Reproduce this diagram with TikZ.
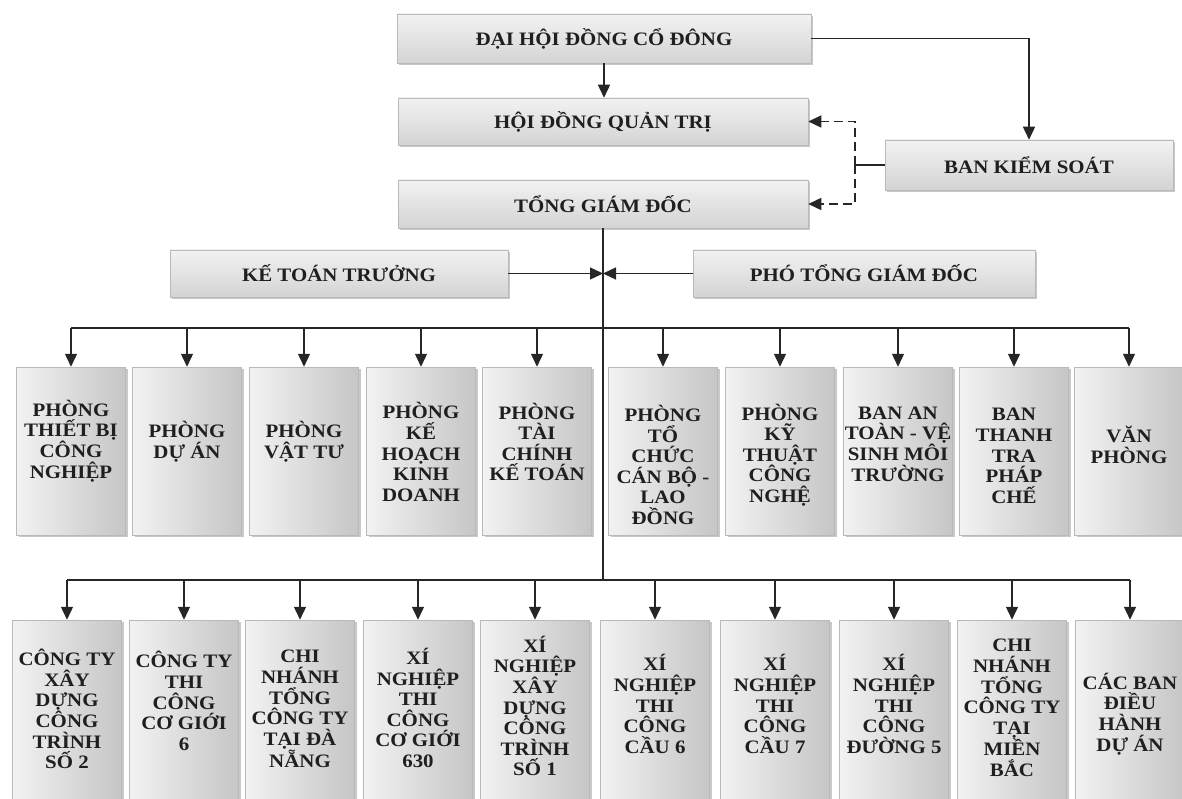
\documentclass[tikz,border=0pt]{standalone}
\usepackage{fontspec}
\setmainfont{Liberation Serif}[FakeStretch=1.1]
\usetikzlibrary{arrows.meta,shadows}
\begin{document}
\begin{tikzpicture}[x=1pt,y=-1pt,
  font=\fontsize{19}{20.6}\selectfont\bfseries,
  conn/.style={draw=black!85, line width=1.4pt},
  arr/.style={conn, -{Triangle[length=13pt,width=12pt]}},
  dsh/.style={dash pattern=on 9pt off 5pt},
  shad/.style={drop shadow={shadow xshift=2pt, shadow yshift=-2pt, fill=gray!60, opacity=.7}},
  wbox/.style={shad, draw=gray!55, line width=0.5pt, top color=gray!10, bottom color=gray!34,
    inner sep=0pt, text=black!88},
  tbox/.style={shad, draw=gray!55, line width=0.5pt, left color=gray!10, right color=gray!45,
    inner sep=0pt, minimum width=109pt},
  rowa/.style={tbox, minimum height=168pt},
  rowb/.style={tbox, minimum height=200pt},
  lbl/.style={align=center, inner sep=0pt, text=black!88}]
\path[use as bounding box] (0,0) rectangle (1182,799);
\clip (0,0) rectangle (1182,799);
\fill[white] (0,0) rectangle (1182,799);

% top boxes
\node[wbox, minimum width=414pt, minimum height=49pt] (dh) at (604,38.5) {ĐẠI HỘI ĐỒNG CỔ ĐÔNG};
\node[wbox, minimum width=410pt, minimum height=47pt] (hd) at (603,121.5) {HỘI ĐỒNG QUẢN TRỊ};
\node[wbox, minimum width=410pt, minimum height=48pt] (tgd) at (603,204) {TỔNG GIÁM ĐỐC};
\node[wbox, minimum width=288pt, minimum height=50pt] (bks) at (1029,165) {BAN KIỂM SOÁT};
\node[wbox, minimum width=338pt, minimum height=47pt] (ktt) at (339,273.5) {KẾ TOÁN TRƯỞNG};
\node[wbox, minimum width=342pt, minimum height=47pt] (ptgd) at (864,273.5) {PHÓ TỔNG GIÁM ĐỐC};

% row 1 boxes
\node[rowa] (a1) at (71,451) {};
\node[rowa] (a2) at (187,451) {};
\node[rowa] (a3) at (304,451) {};
\node[rowa] (a4) at (421,451) {};
\node[rowa] (a5) at (537,451) {};
\node[rowa] (a6) at (663,451) {};
\node[rowa] (a7) at (780,451) {};
\node[rowa] (a8) at (898,451) {};
\node[rowa] (a9) at (1014,451) {};
\node[rowa] (a10) at (1129,451) {};

\node[lbl] (la1) at (71,441) {PHÒNG\\THIẾT BỊ\\CÔNG\\NGHIỆP};
\node[lbl] (la2) at (187,442) {PHÒNG\\DỰ ÁN};
\node[lbl] (la3) at (304,442) {PHÒNG\\VẬT TƯ};
\node[lbl] (la4) at (421,452) {PHÒNG\\KẾ\\HOẠCH\\KINH\\DOANH};
\node[lbl] (la5) at (537,442) {PHÒNG\\TÀI\\CHÍNH\\KẾ TOÁN};
\node[lbl] (la6) at (663,465) {PHÒNG\\TỔ\\CHỨC\\CÁN BỘ -\\LAO\\ĐỒNG};
\node[lbl] (la7) at (780,455) {PHÒNG\\KỸ\\THUẬT\\CÔNG\\NGHỆ};
\node[lbl] (la8) at (898,444) {BAN AN\\TOÀN - VỆ\\SINH MÔI\\TRƯỜNG};
\node[lbl] (la9) at (1014,456) {BAN\\THANH\\TRA\\PHÁP\\CHẾ};
\node[lbl] (la10) at (1129,445) {VĂN\\PHÒNG};

% row 2 boxes
\node[rowb] (b1) at (67,720) {};
\node[rowb] (b2) at (184,720) {};
\node[rowb] (b3) at (300,720) {};
\node[rowb] (b4) at (418,720) {};
\node[rowb] (b5) at (535,720) {};
\node[rowb] (b6) at (655,720) {};
\node[rowb] (b7) at (775,720) {};
\node[rowb] (b8) at (894,720) {};
\node[rowb] (b9) at (1012,720) {};
\node[rowb] (b10) at (1130,720) {};

\node[lbl] (lb1) at (67,709) {CÔNG TY\\XÂY\\DỰNG\\CÔNG\\TRÌNH\\SỐ 2};
\node[lbl] (lb2) at (184,701) {CÔNG TY\\THI\\CÔNG\\CƠ GIỚI\\6};
\node[lbl] (lb3) at (300,709) {CHI\\NHÁNH\\TỔNG\\CÔNG TY\\TẠI ĐÀ\\NẴNG};
\node[lbl] (lb4) at (418,708) {XÍ\\NGHIỆP\\THI\\CÔNG\\CƠ GIỚI\\630};
\node[lbl] (lb5) at (535,706) {XÍ\\NGHIỆP\\XÂY\\DỰNG\\CÔNG\\TRÌNH\\SỐ 1};
\node[lbl] (lb6) at (655,704) {XÍ\\NGHIỆP\\THI\\CÔNG\\CẦU 6};
\node[lbl] (lb7) at (775,704) {XÍ\\NGHIỆP\\THI\\CÔNG\\CẦU 7};
\node[lbl] (lb8) at (894,704) {XÍ\\NGHIỆP\\THI\\CÔNG\\ĐƯỜNG 5};
\node[lbl] (lb9) at (1012,708) {CHI\\NHÁNH\\TỔNG\\CÔNG TY\\TẠI\\MIỀN\\BẮC};
\node[lbl] (lb10) at (1130,714) {CÁC BAN\\ĐIỀU\\HÀNH\\DỰ ÁN};

% coordinates for buses
\coordinate (bus1) at (0,328);
\coordinate (bus2) at (0,580);
\coordinate (dx) at (855,0);

% top connectors
\draw[arr] (dh.south) -- (dh.south |- hd.north);
\draw[arr] (dh.east) -| (bks.north);
\draw[conn] (bks.west) -- (dx |- bks.west);
\draw[arr, dsh] (dx |- bks.west) -- (dx |- hd.east) -- (hd.east);
\draw[arr, dsh] (dx |- bks.west) -- (dx |- tgd.east) -- (tgd.east);

% trunk
\draw[conn] (tgd.south) -- (tgd.south |- bus2);
\draw[arr] (ktt.east) -- (ktt.east -| tgd.south);
\draw[arr] (ptgd.west) -- (ptgd.west -| tgd.south);

% row 1 bus
\draw[conn] (a1.north |- bus1) -- (a10.north |- bus1);
\foreach \i in {1,...,10} {\draw[arr] (a\i.north |- bus1) -- (a\i.north);}
% row 2 bus
\draw[conn] (b1.north |- bus2) -- (b10.north |- bus2);
\foreach \i in {1,...,10} {\draw[arr] (b\i.north |- bus2) -- (b\i.north);}
\end{tikzpicture}
\end{document}
